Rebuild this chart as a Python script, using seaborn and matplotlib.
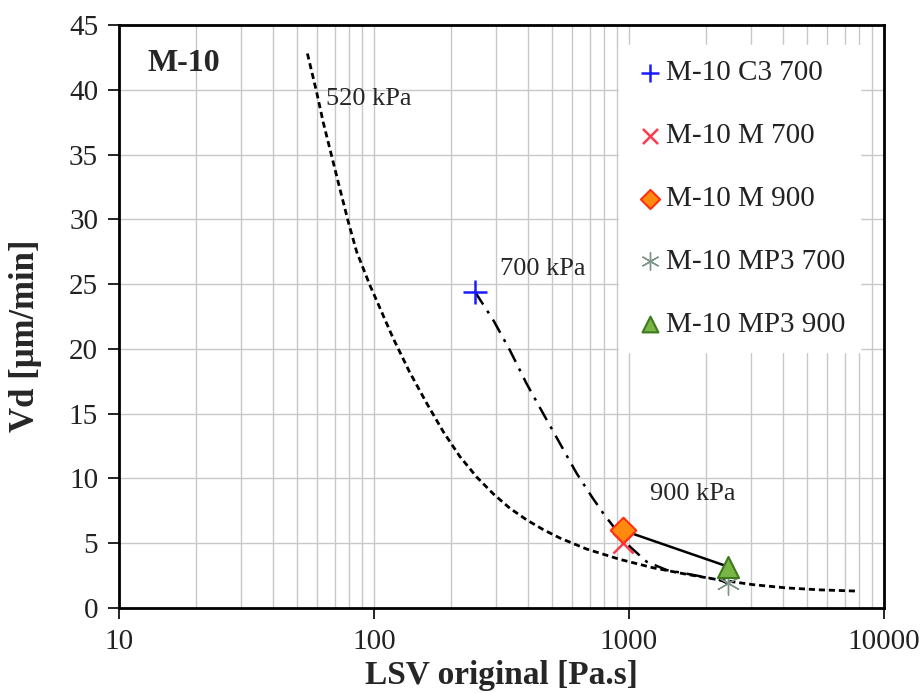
import matplotlib
matplotlib.use("Agg")
import matplotlib.pyplot as plt
import seaborn as sns
import numpy as np
import pandas as pd
from matplotlib.ticker import NullFormatter, LogLocator

# ---- data ----
curve520_x = [54.8, 59.6, 63.2, 68.2, 73.6, 79.3, 85.5, 96.4, 100, 119, 138, 161, 187, 217, 253, 294, 341,
              397, 461, 536, 682, 922, 1245, 1683, 2274, 3071, 4150, 5610, 7690]
curve520_y = [42.8, 39.8, 37.5, 34.9, 32.3, 29.8, 27.5, 24.9, 24.2, 20.8, 18.2, 15.8, 13.6, 11.7, 10.1, 8.8, 7.7,
              6.8, 6.05, 5.4, 4.55, 3.75, 3.1, 2.6, 2.16, 1.8, 1.55, 1.4, 1.31]

curve700_x = [249, 294, 341, 397, 461, 536, 623, 714, 793, 950, 1009, 1173, 1405, 1787, 2274, 2440]
curve700_y = [24.4, 22.2, 19.9, 17.3, 15.0, 12.7, 10.4, 8.6, 7.3, 5.3, 4.73, 3.57, 2.93, 2.55, 2.16, 1.9]

curve900_x = [945, 2440]
curve900_y = [6.0, 3.2]

series_names = ["M-10 C3 700", "M-10 M 700", "M-10 M 900", "M-10 MP3 700", "M-10 MP3 900"]
series_x = [250, 945, 945, 2440, 2440]
series_y = [24.4, 5.0, 6.0, 1.95, 3.2]

annot_texts = ["520 kPa", "700 kPa", "900 kPa"]
x_ticks = [10, 100, 1000, 10000]
x_ticklabels = ["10", "100", "1000", "10000"]
y_ticks = [0, 5, 10, 15, 20, 25, 30, 35, 40, 45]

# ---- styling ----
sns.set_theme(style="white")
plt.rcParams["font.family"] = ["Liberation Serif", "DejaVu Serif"]

fig = plt.figure(figsize=(9.24, 6.93), dpi=100)
ax = fig.add_axes([119/924, 85/693, 765/924, 583/693])

ax.set_xscale("log")
ax.set_xlim(10, 10000)
ax.set_ylim(0, 45)

ax.xaxis.set_minor_locator(LogLocator(base=10, subs=np.arange(2, 10)))
ax.xaxis.set_minor_formatter(NullFormatter())
ax.grid(True, which="both", axis="x", color="#c8c8c8", linewidth=1.0)
ax.grid(True, which="major", axis="y", color="#c8c8c8", linewidth=1.0)
ax.set_axisbelow(True)

df520 = pd.DataFrame({"x": curve520_x, "y": curve520_y})
df700 = pd.DataFrame({"x": curve700_x, "y": curve700_y})
df900 = pd.DataFrame({"x": curve900_x, "y": curve900_y})

sns.lineplot(data=df520, x="x", y="y", ax=ax, sort=False, color="black",
             linewidth=2.0, linestyle=(0, (2.2, 1.4)), zorder=2)
sns.lineplot(data=df700, x="x", y="y", ax=ax, sort=False, color="black",
             linewidth=1.8, linestyle=(0, (6, 3, 1.2, 3)), zorder=2)
sns.lineplot(data=df900, x="x", y="y", ax=ax, sort=False, color="black",
             linewidth=1.8, linestyle="-", zorder=2)

styles = [
    dict(marker="+", color="#1a1aff", s=280, linewidth=1.8),
    dict(marker="x", color="#ff3b4e", s=210, linewidth=1.8),
    dict(marker="D", color="#ff8a10", edgecolor="#ff3010", s=170, linewidth=1.5),
    dict(marker=(6, 2, 0), color="#7f9488", s=280, linewidth=1.0),
    dict(marker="^", color="#79b544", edgecolor="#3c7a1c", s=230, linewidth=1.5),
]
for name, xv, yv, st in zip(series_names, series_x, series_y, styles):
    d = pd.DataFrame({"x": [xv], "y": [yv]})
    sns.scatterplot(data=d, x="x", y="y", ax=ax, label=name, zorder=4, **st)

ax.set_xticks(x_ticks)
ax.set_xticklabels(x_ticklabels)
ax.set_yticks(y_ticks)
ax.tick_params(axis="both", which="major", direction="out", length=8, width=1.2,
               labelsize=21, color="black", labelcolor="#222222", bottom=True, left=True, pad=7)
ax.tick_params(axis="x", which="minor", length=0)
for sp in ax.spines.values():
    sp.set_color("black")
    sp.set_linewidth(2.0)

ax.set_xlabel("LSV original [Pa.s]", fontsize=24, fontweight="bold", labelpad=4)
ax.set_ylabel("Vd [\u03bcm/min]", fontsize=25, fontweight="bold")
ax.yaxis.set_label_coords(-0.100, 0.467)

ax.text(0.037, 0.958, "M-10", transform=ax.transAxes, fontsize=23, fontweight="bold",
        va="top", ha="left")
ax.text(65, 39.3, annot_texts[0], fontsize=19, ha="left", va="center")
ax.text(312, 26.2, annot_texts[1], fontsize=19, ha="left", va="center")
ax.text(1210, 8.8, annot_texts[2], fontsize=19, ha="left", va="center")

leg = ax.legend(loc="upper left", bbox_to_anchor=(0.635, 0.99), fontsize=21,
                frameon=True, facecolor="white", edgecolor="white", framealpha=1.0,
                labelspacing=1.25, handletextpad=0.0, handlelength=1.1,
                borderpad=0.5, markerscale=0.75, fancybox=False)
for t in leg.get_texts():
    t.set_color("#222222")

fig.savefig("out.png", dpi=100)
